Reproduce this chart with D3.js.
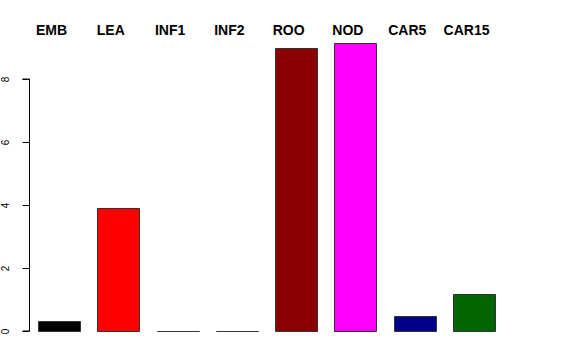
<!DOCTYPE html>
<html><head><meta charset="utf-8">
<script src="https://cdn.jsdelivr.net/npm/d3@7"></script>
<style>body{margin:0;background:#fff}svg{display:block}</style>
</head><body>
<script>
const categories = ["EMB","LEA","INF1","INF2","ROO","NOD","CAR5","CAR15"];
const values = [0.32, 3.92, 0.0, 0.0, 9.0, 9.14, 0.49, 1.16];
const colors = ["#000000","#ff0000","#00cd00","#0000ff","#8b0000","#ff00ff","#00008b","#006400"];
const yTicks = [0, 2, 4, 6, 8];

const W = 576, H = 360;
const svg = d3.select("body").append("svg").attr("width", W).attr("height", H)
  .style("font-family", "'Liberation Sans', Arial, sans-serif");

const x = d3.scaleBand().domain(categories).range([38, 495]).paddingInner(0.292).paddingOuter(0);
const y = d3.scaleLinear().domain([0, 8]).range([331, 79]);

svg.selectAll("path.bar").data(categories).enter().append("path")
  .attr("class", "bar")
  .attr("d", (d, i) => {
    const x0 = Math.round(x(d)) + 0.5;
    const w = Math.round(x.bandwidth());
    const y0 = Math.round(y(values[i])) + 0.5;
    const h = Math.round(y(0)) - Math.round(y(values[i]));
    return `M${x0},${y0}h${w}v${h}h${-w}Z`;
  })
  .attr("fill", (d, i) => colors[i])
  .attr("stroke", "#333")
  .attr("stroke-width", 1);

svg.selectAll("text.cat").data(categories).enter().append("text")
  .attr("class", "cat")
  .attr("x", d => x(d) + x.bandwidth() / 2 - 7.5)
  .attr("y", 35)
  .attr("text-anchor", "middle")
  .attr("font-weight", "bold")
  .attr("font-size", 14)
  .text(d => d);

const axis = d3.axisLeft(y).tickValues(yTicks).tickSize(7).tickPadding(0).tickFormat(d3.format("d"));
const g = svg.append("g").attr("transform", "translate(29.5,0)").call(axis);
g.select(".domain").attr("stroke", "#000").attr("d", `M-7,${y(0)}H0V${y(8)}H-7`);
g.selectAll(".tick line").attr("stroke", "#000");
g.selectAll(".tick text").remove();
g.selectAll(".tick").append("text")
  .attr("transform", "translate(-20.5,0) rotate(-90)")
  .attr("text-anchor", "middle")
  .attr("fill", "#000")
  .attr("font-size", 10)
  .attr("font-family", "'Liberation Sans', Arial, sans-serif")
  .text(d => d);
</script>
</body></html>
